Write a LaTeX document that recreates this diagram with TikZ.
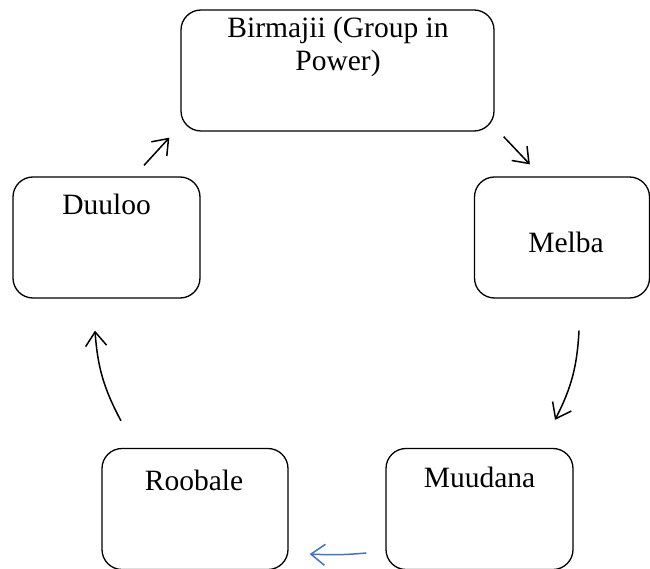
\documentclass[tikz,border=0pt]{standalone}
\usepackage{fontspec}
\setmainfont{Liberation Serif}
\usetikzlibrary{arrows.meta}
\definecolor{arrowblue}{HTML}{4472C4}
\begin{document}
\begin{tikzpicture}[x=1pt,y=-1pt,
  box/.style={draw=black, line width=1.3pt, rounded corners=20pt, inner sep=0pt},
  lbl/.style={inner sep=0pt, font=\fontsize{29.5}{33}\selectfont, align=center},
  arr/.style={line width=1.5pt, -{Straight Barb[length=14pt,width=21pt,line width=1.5pt]}},
]
\useasboundingbox (0,0) rectangle (650,569);
% boxes
\node[box, minimum width=313pt, minimum height=121pt] (bB) at (337.5,70.5) {};
\node[box, minimum width=175pt, minimum height=121pt] (bM) at (562,237.5) {};
\node[box, minimum width=187pt, minimum height=121pt] (bD) at (106.5,237.5) {};
\node[box, minimum width=187pt, minimum height=121pt] (bMu) at (479.5,509) {};
\node[box, minimum width=186pt, minimum height=121pt] (bR) at (195,509) {};
% labels
\node[lbl, anchor=north] (tB) at (338,17) {Birmajii (Group in\\Power)};
\node[lbl, anchor=base] (tM) at (566,252) {Melba};
\node[lbl, anchor=base] (tD) at (106.5,215) {Duuloo};
\node[lbl, anchor=base] (tMu) at (479.5,487) {Muudana};
\node[lbl, anchor=base] (tR) at (194,490) {Roobale};
% connectors
\draw[arr] ([shift={(37.5pt,11pt)}]bD.north) -- ([shift={(-11pt,-6pt)}]bB.south west);
\draw[arr] ([shift={(9pt,-5pt)}]bB.south east) -- ([shift={(56pt,12pt)}]bM.north west);
\draw[arr] ([shift={(17pt,-32pt)}]bM.south) to[bend left=12] ([shift={(75.5pt,28pt)}]bMu.north);
\draw[arr, draw=arrowblue] ([shift={(-19pt,-44pt)}]bMu.west) to[bend left=4] ([shift={(21pt,-45pt)}]bR.east);
\draw[arr] ([shift={(-74pt,27pt)}]bR.north) to[bend left=12] ([shift={(-11.5pt,-32pt)}]bD.south);
\end{tikzpicture}
\end{document}
